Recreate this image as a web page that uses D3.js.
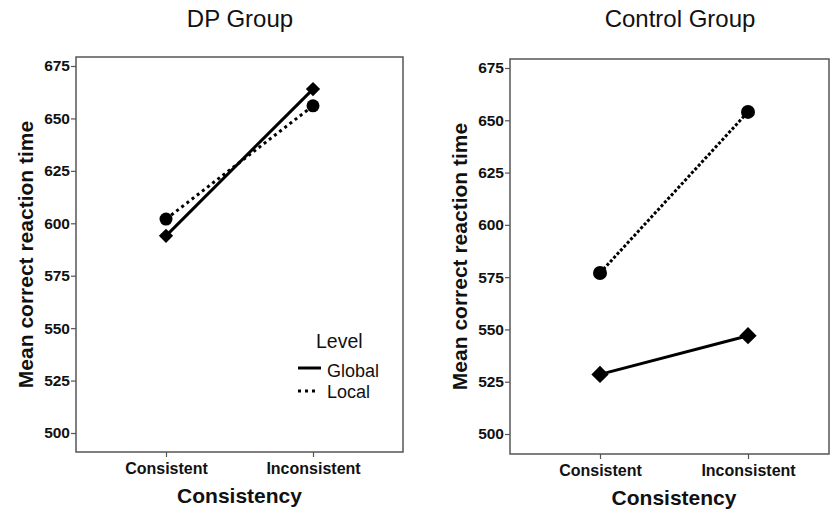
<!DOCTYPE html>
<html><head><meta charset="utf-8">
<script src="https://cdn.jsdelivr.net/npm/d3@7"></script>
<style>body{margin:0;background:#fff}svg{display:block}</style>
</head><body><svg id="c" width="830" height="512"></svg>
<script>
const categories = ["Consistent", "Inconsistent"];
const yTicks = [500, 525, 550, 575, 600, 625, 650, 675];
const dpGlobal = [594, 664];
const dpLocal = [602, 656];
const ctlGlobal = [528.5, 547];
const ctlLocal = [577, 654];
const panelTitles = ["DP Group", "Control Group"];
const legendTitle = "Level";
const legendLabels = ["Global", "Local"];

const svg = d3.select("#c");
const font = "'Liberation Sans', Arial, sans-serif";

const panels = [
  {title: panelTitles[0], g: dpGlobal, l: dpLocal, left: 76, right: 403, top: 57, bottom: 452, y675: 66, y500: 433, cx: [166, 313], tx: 240, ylab: 33, dia: 130, r: 6.5, legend: true, dash: "3,3.5"},
  {title: panelTitles[1], g: ctlGlobal, l: ctlLocal, left: 510, right: 829, top: 59, bottom: 454, y675: 68, y500: 434, cx: [600, 748], tx: 680, ylab: 467, dia: 190, r: 7, legend: false, dash: "3,2"}
];

panels.forEach(p => {
  const y = d3.scaleLinear().domain([500, 675]).range([p.y500, p.y675]);
  const x = d3.scalePoint().domain(categories).range(p.cx);
  const g = svg.append("g");
  g.append("text").attr("x", p.tx).attr("y", 27).attr("text-anchor", "middle")
    .attr("font-family", font).attr("font-size", 24).attr("fill", "#111").text(p.title);
  g.append("rect").attr("x", p.left).attr("y", p.top).attr("width", p.right - p.left).attr("height", p.bottom - p.top)
    .attr("fill", "none").attr("stroke", "#555").attr("stroke-width", 1.5);
  const ya = g.append("g").attr("transform", `translate(${p.left},0)`)
    .call(d3.axisLeft(y).tickValues(yTicks).tickSize(5).tickPadding(1).tickFormat(d3.format("d")));
  ya.select(".domain").remove();
  ya.selectAll("line").attr("stroke", "#555").attr("stroke-width", 1.2);
  ya.selectAll("text").attr("font-family", font).attr("font-size", 15.5).attr("font-weight", "bold").attr("fill", "#111");
  const xa = g.append("g").attr("transform", `translate(0,${p.bottom})`)
    .call(d3.axisBottom(x).tickSize(5).tickPadding(6));
  xa.select(".domain").remove();
  xa.selectAll("line").attr("stroke", "#555").attr("stroke-width", 1.2);
  xa.selectAll("text").attr("font-family", font).attr("font-size", 16).attr("font-weight", "bold").attr("fill", "#111");
  g.append("text").attr("x", (p.cx[0] + p.cx[1]) / 2).attr("y", p.bottom + 51).attr("text-anchor", "middle")
    .attr("font-family", font).attr("font-size", 21).attr("font-weight", "bold").attr("fill", "#111").text("Consistency");
  g.append("text").attr("transform", `translate(${p.ylab},${(p.top + p.bottom) / 2}) rotate(-90)`)
    .attr("text-anchor", "middle").attr("font-family", font).attr("font-size", 21).attr("font-weight", "bold")
    .attr("fill", "#111").text("Mean correct reaction time");

  const line = d3.line().x((d, i) => x(categories[i])).y(d => y(d));
  g.append("path").datum(p.l).attr("d", line).attr("fill", "none").attr("stroke", "#000")
    .attr("stroke-width", 3).attr("stroke-dasharray", p.dash);
  g.append("path").datum(p.g).attr("d", line).attr("fill", "none").attr("stroke", "#000").attr("stroke-width", 3);
  g.selectAll(".circ").data(p.l).enter().append("circle")
    .attr("cx", (d, i) => x(categories[i])).attr("cy", d => y(d)).attr("r", p.r).attr("fill", "#000");
  g.selectAll(".dia").data(p.g).enter().append("path")
    .attr("transform", (d, i) => `translate(${x(categories[i])},${y(d)})`)
    .attr("d", d3.symbol().type(d3.symbolDiamond2).size(p.dia)).attr("fill", "#000");

  if (p.legend) {
    const lg = g.append("g");
    lg.append("text").attr("x", 316).attr("y", 348).attr("font-family", font)
      .attr("font-size", 19.5).attr("fill", "#111").text(legendTitle);
    lg.append("line").attr("x1", 298).attr("x2", 321).attr("y1", 368).attr("y2", 368).attr("stroke", "#000").attr("stroke-width", 3);
    lg.append("line").attr("x1", 298).attr("x2", 318).attr("y1", 391).attr("y2", 391).attr("stroke", "#000").attr("stroke-width", 3).attr("stroke-dasharray", "3,4");
    lg.append("text").attr("x", 327).attr("y", 377).attr("font-family", font).attr("font-size", 18).attr("fill", "#111").text(legendLabels[0]);
    lg.append("text").attr("x", 327).attr("y", 398).attr("font-family", font).attr("font-size", 18).attr("fill", "#111").text(legendLabels[1]);
  }
});
</script></body></html>
